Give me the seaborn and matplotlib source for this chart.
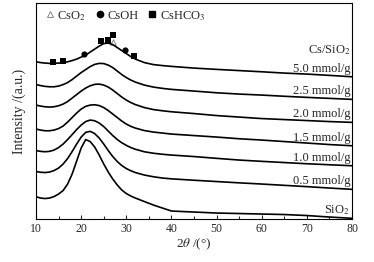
import numpy as np
import pandas as pd
import matplotlib
matplotlib.use("Agg")
import matplotlib.pyplot as plt
from matplotlib.lines import Line2D
import seaborn as sns

# 2theta grid (deg)
two_theta = [10, 11, 12, 13, 14, 15, 16, 17, 18, 19, 20, 21, 22, 23, 24, 25, 26, 27, 28,
             29, 30, 31, 32, 34, 36, 38, 40, 45, 50, 55, 60, 65, 70, 75, 80]

# stacked intensities (a.u., already offset)
sio2 = [22.3, 21, 20.5, 21, 22.5, 25, 28.5, 35, 45, 58, 71, 79.5, 77.5, 72, 64, 55, 47, 40, 34,
        29, 25.5, 23, 21, 17.5, 14, 11, 8, 7, 6, 5.5, 5, 4.5, 3.5, 2, 0.7]
cs_05 = [47.5, 46.8, 46.5, 47, 48.5, 51, 55, 60.5, 67.5, 75, 82, 86.7, 87.7, 85.5, 81, 75, 68.5, 62.5, 57.5,
         53.5, 50.5, 48.3, 46.5, 44, 42.3, 41, 40.2, 38.8, 37.5, 36.2, 35, 33.7, 32.4, 31, 29.7]
cs_10 = [68.5, 67.7, 67.3, 67.7, 69, 71.5, 75, 79.5, 84.5, 89.5, 94, 97.5, 99, 98.3, 96, 92.5, 88, 83.5, 79.5,
         76.3, 73.7, 71.5, 69.8, 67.3, 65.8, 64.8, 64, 62.5, 60.7, 59, 57.7, 56.5, 55.3, 54.3, 53.3]
cs_15 = [90, 89, 88.3, 88.3, 89, 90.5, 93, 97, 101.5, 106, 110, 112.7, 114, 114.3, 113.5, 111.5, 108.5, 105, 101.5,
         98, 95, 92.7, 91, 88.5, 87, 86, 85, 83.5, 82, 80.3, 79, 77.5, 76, 74.5, 73.3]
cs_20 = [114, 113, 112.3, 112, 112.3, 113.3, 115, 117.5, 121, 124.5, 128, 131, 133.3, 134.7, 135, 134, 132, 129, 125.5,
         122, 119, 116.5, 114.5, 111.5, 109.5, 108.3, 107.3, 105.5, 103.5, 102, 100.5, 99.5, 98.5, 97.5, 96.7]
cs_25 = [134.5, 133.5, 132.7, 132.3, 132.3, 133, 134.5, 136.5, 139.5, 143, 146.5, 149.5, 152.5, 154.7, 155.7, 155.5, 154, 151.5, 148,
         144.5, 141.5, 139, 137, 134, 132, 130.7, 129.7, 128, 126.3, 125, 124, 122.8, 121.7, 120.7, 119.7]
cs_50 = [157.3, 156.5, 156, 155.7, 155.7, 156, 156.5, 157.3, 158.5, 160, 162, 164, 167, 170, 173, 175.5, 176, 174.5, 171.5,
         168.5, 165.5, 162.5, 160, 156.5, 154.5, 153.5, 152.7, 151, 149.7, 148.5, 147.3, 146, 145, 143.7, 142.3]

curves = [sio2, cs_05, cs_10, cs_15, cs_20, cs_25, cs_50]
labels = ["SiO$_2$", "0.5 mmol/g", "1.0 mmol/g", "1.5 mmol/g", "2.0 mmol/g", "2.5 mmol/g", "5.0 mmol/g"]

# phase markers on the 5.0 mmol/g pattern
cso2_x, cso2_y = [27.1], [177.5]
csoh_x, csoh_y = [20.7, 29.8], [165.3, 168.7]
cshco3_x = [13.8, 15.9, 24.5, 25.9, 27.0, 31.8]
cshco3_y = [156.8, 158.0, 177.7, 179.3, 184.3, 162.8]

sns.set_style("ticks")
plt.rcParams['font.family'] = ['Liberation Serif', 'DejaVu Serif']
plt.rcParams['mathtext.fontset'] = 'stix'

fig = plt.figure(figsize=(3.74, 2.62), dpi=100)
ax = fig.add_axes([0.0963, 0.164, 0.845, 0.823])

for ys in curves:
    sns.lineplot(x=two_theta, y=ys, color='black', linewidth=1.2, ax=ax)

sns.scatterplot(x=cshco3_x, y=cshco3_y, marker='s', s=20, color='black', edgecolor='black', linewidth=0, ax=ax)
sns.scatterplot(x=csoh_x, y=csoh_y, marker='o', s=20, color='black', edgecolor='black', linewidth=0, ax=ax)
sns.scatterplot(x=cso2_x, y=cso2_y, marker='^', s=16, facecolor='white', edgecolor='#777777', linewidth=0.6, ax=ax)

for ys, lab in zip(curves, labels):
    ax.text(79.6, ys[-1] + 8, lab, ha='right', va='center', fontsize=9)
ax.text(79.6, cs_50[-1] + 26.5, "Cs/SiO$_2$", ha='right', va='center', fontsize=9)

handles = [
    Line2D([], [], ls='none', marker='^', ms=4, mfc='white', mec='#777777', mew=0.6),
    Line2D([], [], ls='none', marker='o', ms=4.5, mfc='black', mec='black'),
    Line2D([], [], ls='none', marker='s', ms=4.5, mfc='black', mec='black'),
]
ax.legend(handles, ["CsO$_2$", "CsOH", "CsHCO$_3$"], ncol=3, loc='upper left',
          bbox_to_anchor=(0.0, 1.01), frameon=False, fontsize=9,
          handletextpad=0.1, columnspacing=0.6, handlelength=1.0, borderaxespad=0.2)

ax.set_xlim(10, 80)
ax.set_ylim(0, 215.7)
ax.set_xticks(range(10, 81, 10))
ax.set_xticks(range(15, 80, 10), minor=True)
ax.set_yticks([])
ax.tick_params(axis='x', which='major', direction='in', length=3, width=0.8, labelsize=8.5, pad=3)
ax.tick_params(axis='x', which='minor', direction='in', length=2, width=0.8)
for sp in ax.spines.values():
    sp.set_linewidth(0.8)
    sp.set_color('black')

ax.set_xlabel(r"2$\theta$ /(°)", fontsize=9.5, labelpad=1)
ax.set_ylabel("Intensity /(a.u.)", fontsize=10, labelpad=7)

fig.savefig("out.png", dpi=100)
